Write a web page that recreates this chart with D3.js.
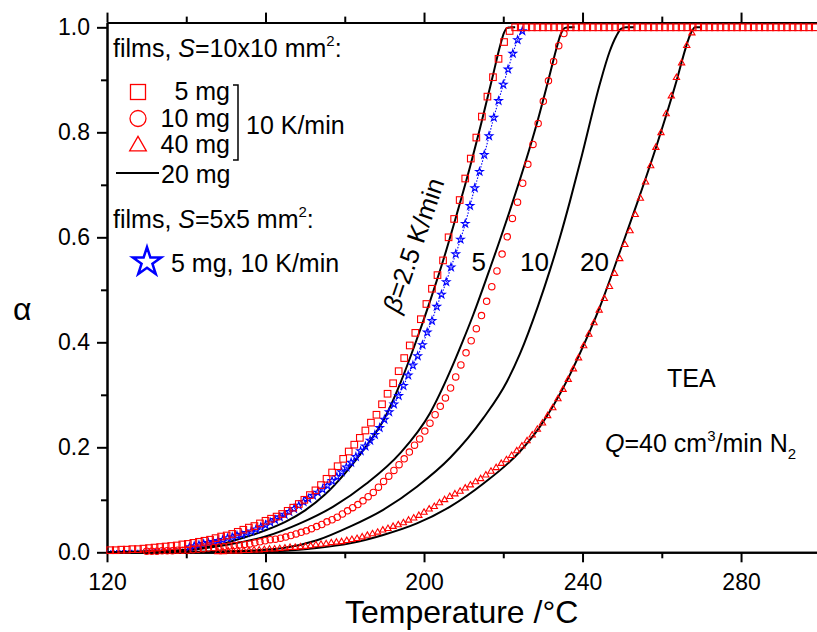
<!DOCTYPE html>
<html>
<head>
<meta charset="utf-8">
<script src="https://cdn.jsdelivr.net/npm/d3@7"></script>
<style>
  body { margin: 0; background: #fff; }
  text { font-family: "Liberation Sans", Arial, sans-serif; fill: #000; }
</style>
</head>
<body>
<svg id="chart" width="817" height="632"></svg>
<script>
// axis ticks
const xTicks = [120, 160, 200, 240, 280];
const xMinor = [140, 180, 220, 260, 300];
const yTicks = [0, 0.2, 0.4, 0.6, 0.8, 1.0];
const yMinor = [0.1, 0.3, 0.5, 0.7, 0.9];

// solid lines (20 mg) at beta = 2.5, 5, 10, 20 K/min  [T, alpha]
const line25 = [[120,0],[125,0.001],[130,0.002],[135,0.003],[140,0.005],[145,0.010],[150,0.018],[155,0.029],
  [160,0.042],[165,0.058],[170,0.080],[175,0.110],[180,0.150],[185,0.198],[190,0.255],[194,0.322],[198,0.402],
  [201.5,0.478],[205,0.560],[208.3,0.645],[211.6,0.734],[214.6,0.822],[217.5,0.912],[219.2,0.965],[220.2,0.990],
  [221,0.999],[222,1.0],[223,1.0]];
const line5 = [[120,0],[130,0.001],[140,0.004],[150,0.014],[160,0.030],[168.7,0.055],[177.1,0.087],[185.5,0.131],
  [194,0.189],[201.5,0.265],[206.6,0.345],[209.5,0.397],[212.4,0.452],[216.7,0.542],[222.4,0.668],[225.5,0.741],
  [228.4,0.815],[231.8,0.912],[233.5,0.962],[234.5,0.987],[235.6,0.999],[236.5,1.0],[238,1.0]];
const line10 = [[120,0],[140,0.001],[155,0.003],[164.5,0.008],[173,0.023],[181.3,0.049],[189.7,0.081],[198.2,0.125],
  [206.6,0.180],[215,0.256],[220.9,0.325],[224.2,0.378],[228.8,0.470],[231.8,0.538],[234.3,0.600],[236.8,0.668],
  [239.8,0.755],[244.4,0.893],[246.8,0.953],[248.5,0.983],[249.7,0.997],[251,1.0],[253,1.0]];
const line20 = [[120,0],[150,0.001],[165,0.003],[172.9,0.008],[181.3,0.017],[189.7,0.033],[198.2,0.055],[206.6,0.087],
  [215,0.131],[224.2,0.192],[229.3,0.240],[236,0.326],[239.4,0.380],[244.4,0.468],[249.5,0.574],[254,0.670],
  [258.7,0.775],[263.8,0.900],[266,0.960],[267.4,0.990],[268.4,1.0],[270,1.0]];

// 10x10 mm2 films, 10 K/min: 5 mg (squares)
const mg5 = [[120.8,.004],[122.2,.004],[123.6,.005],[125.0,.005],[126.4,.006],[127.8,.006],[129.2,.007],[130.6,.008],
  [132.0,.009],[133.4,.010],[134.8,.011],[136.2,.012],[137.6,.013],[139.0,.015],[140.4,.016],[141.8,.018],[143.2,.020],
  [144.6,.022],[146.0,.024],[147.4,.027],[148.8,.030],[150.2,.032],[151.6,.035],[153.0,.039],[154.4,.043],[155.8,.047],
  [157.2,.050],[158.6,.055],[160.0,.060],[161.4,.064],[162.8,.068],[164.2,.073],[165.6,.079],[167.0,.085],[168.4,.092],
  [169.8,.100],[171.2,.109],[172.6,.118],[174.0,.128],[175.4,.140],[176.8,.152],[178.2,.164],[179.6,.178],[181.0,.192],
  [182.4,.205],[183.8,.218],[185.2,.232],[186.6,.247],[188.0,.262],[189.4,.282],[190.8,.302],[192.2,.322],[193.6,.345],
  [195.0,.370],[196.4,.394],[197.8,.418],[199.2,.444],[200.6,.473],[202.0,.502],[203.4,.528],[204.8,.556],[206.2,.600],
  [207.6,.635],[209.0,.671],[210.4,.712],[211.8,.750],[213.2,.790],[214.6,.830],[216.0,.868],[217.4,.905],[218.8,.940],
  [220.2,.972],[221.6,.993],[223.0,1],[224.4,1],[225.8,1],[227.2,1],[228.6,1],[230.0,1],[231.4,1],[232.8,1],[234.2,1],
  [235.6,1],[237.0,1],[238.4,1],[239.8,1],[241.2,1],[242.6,1],[244.0,1],[245.4,1],[246.8,1],[248.2,1],[249.6,1],
  [251.0,1],[252.4,1],[253.8,1],[255.2,1],[256.6,1],[258.0,1],[259.4,1],[260.8,1],[262.2,1],[263.6,1],[265.0,1],
  [266.4,1],[267.8,1],[269.2,1],[270.6,1],[272.0,1],[273.4,1],[274.8,1],[276.2,1],[277.6,1],[279.0,1],[280.4,1],
  [281.8,1],[283.2,1],[284.6,1],[286.0,1],[287.4,1],[288.8,1],[290.2,1],[291.6,1],[293.0,1],[294.4,1],[295.8,1],
  [297.2,1],[298.6,1]];

// 10 mg (circles)
const mg10 = [[130.0,.002],[131.3,.002],[132.6,.002],[133.9,.003],[135.2,.003],[136.5,.003],[137.8,.004],[139.1,.004],
  [140.4,.004],[141.7,.005],[143.0,.006],[144.3,.007],[145.6,.008],[146.9,.009],[148.2,.010],[149.5,.011],[150.8,.012],
  [152.1,.013],[153.4,.014],[154.7,.015],[156.0,.016],[157.3,.018],[158.6,.020],[159.9,.022],[161.2,.024],[162.5,.025],
  [163.8,.027],[165.1,.029],[166.4,.032],[167.7,.035],[169.0,.038],[170.3,.041],[171.6,.045],[172.9,.049],[174.2,.053],
  [175.5,.058],[176.8,.062],[178.1,.067],[179.4,.073],[180.7,.079],[182.0,.085],[183.3,.091],[184.6,.098],[185.9,.106],
  [187.2,.114],[188.5,.124],[189.8,.135],[191.1,.145],[192.4,.156],[193.7,.167],[195.0,.178],[196.3,.191],[197.6,.204],
  [198.9,.216],[200.2,.231],[201.5,.246],[202.8,.262],[204.1,.278],[205.4,.294],[206.7,.313],[208.0,.334],[209.3,.357],
  [210.6,.380],[211.9,.403],[213.2,.426],[214.5,.451],[215.8,.478],[217.1,.506],[218.4,.536],[219.7,.568],[221.0,.601],
  [222.3,.636],[223.6,.667],[224.9,.703],[226.2,.739],[227.5,.777],[228.8,.817],[230.1,.859],[231.4,.898],[232.7,.935],
  [234.0,.965],[235.3,.988]];

// 40 mg (triangles)
const mg40 = [[148.0,.001],[149.3,.001],[150.6,.002],[151.9,.002],[153.2,.002],[154.5,.003],[155.8,.003],[157.1,.004],
  [158.4,.004],[159.7,.005],[161.0,.006],[162.3,.006],[163.6,.007],[164.9,.008],[166.2,.009],[167.5,.009],[168.8,.010],
  [170.1,.011],[171.4,.012],[172.7,.014],[174.0,.015],[175.3,.016],[176.6,.018],[177.9,.019],[179.2,.020],[180.5,.022],
  [181.8,.024],[183.1,.026],[184.4,.029],[185.7,.032],[187.0,.035],[188.3,.038],[189.6,.042],[190.9,.045],[192.2,.049],
  [193.5,.052],[194.8,.056],[196.1,.061],[197.4,.065],[198.7,.070],[200.0,.076],[201.3,.082],[202.6,.087],[203.9,.094],
  [205.2,.100],[206.5,.106],[207.8,.111],[209.1,.116],[210.4,.122],[211.7,.128],[213.0,.134],[214.3,.140],[215.6,.147],
  [216.9,.154],[218.2,.161],[219.5,.169],[220.8,.176],[222.1,.184],[223.4,.193],[224.7,.202],[226.0,.212],[227.3,.223],
  [228.6,.234],[229.9,.246],[231.2,.260],[232.5,.275],[233.8,.292],[235.1,.310],[236.4,.329],[237.7,.349],[239.0,.370],
  [240.3,.393],[241.6,.415],[242.9,.437],[244.2,.461],[245.5,.483],[246.8,.506],[248.1,.531],[249.4,.559],[250.7,.586],
  [252.0,.612],[253.3,.643],[254.6,.674],[255.9,.705],[257.2,.736],[258.5,.771],[259.8,.799],[261.1,.835],[262.4,.869],
  [263.7,.904],[265.0,.932],[266.3,.965],[267.6,.989]];

// 5x5 mm2 films, 5 mg, 10 K/min (stars)
const small5 = [[140.8,.010],[142.0,.012],[143.2,.014],[144.4,.016],[145.6,.018],[146.8,.020],[148.0,.022],[149.2,.024],
  [150.4,.027],[151.6,.029],[152.8,.032],[154.0,.034],[155.2,.037],[156.4,.040],[157.6,.044],[158.8,.048],[160.0,.052],
  [161.2,.057],[162.4,.062],[163.6,.067],[164.8,.072],[166.0,.077],[167.2,.083],[168.4,.089],[169.6,.096],[170.8,.102],
  [172.0,.108],[173.2,.114],[174.4,.120],[175.6,.127],[176.8,.136],[178.0,.144],[179.2,.153],[180.4,.162],[181.6,.171],
  [182.8,.182],[184.0,.193],[185.2,.202],[186.4,.213],[187.6,.224],[188.8,.237],[190.0,.253],[191.2,.267],[192.4,.282],
  [193.6,.298],[194.8,.317],[196.0,.337],[197.2,.356],[198.4,.374],[199.6,.395],[200.8,.419],[202.0,.441],[203.2,.468],
  [204.4,.491],[205.6,.515],[206.8,.543],[208.0,.568],[209.2,.596],[210.4,.626],[211.6,.660],[212.8,.694],[214.0,.725],
  [215.2,.757],[216.4,.793],[217.6,.828],[218.8,.860],[220.0,.891],[221.2,.920],[222.4,.950],[223.6,.976],[224.8,.993]];
const small5Head = [[120,.003],[128,.004],[134,.006],[138,.008]];
const small5Tail = [[226.5,.994],[300,.994]];

const svg = d3.select("#chart");
const x = d3.scaleLinear().domain([120, 300]).range([107, 820.3]);
const y = d3.scaleLinear().domain([0, 1.009]).range([552.3, 22.6]);

// axes
function styleAxis(g) {
  g.selectAll("path.domain").attr("stroke-width", 2);
  g.selectAll(".tick line").attr("stroke-width", 2);
  g.selectAll("text").attr("font-size", 23).attr("font-family", '"Liberation Sans", Arial, sans-serif');
}
svg.append("g").attr("transform", "translate(0,552.3)")
  .call(d3.axisBottom(x).tickValues(xTicks).tickSize(10).tickSizeOuter(0).tickPadding(11).tickFormat(d3.format("d")))
  .call(styleAxis);
svg.append("g").attr("transform", "translate(0,552.3)")
  .call(d3.axisBottom(x).tickValues(xMinor).tickSize(6).tickSizeOuter(0).tickFormat(""))
  .call(styleAxis);
svg.append("g").attr("transform", "translate(0,22.6)")
  .call(d3.axisTop(x).tickValues(xTicks).tickSize(10).tickSizeOuter(0).tickFormat(""))
  .call(styleAxis);
svg.append("g").attr("transform", "translate(0,22.6)")
  .call(d3.axisTop(x).tickValues(xMinor).tickSize(6).tickSizeOuter(0).tickFormat(""))
  .call(styleAxis);
svg.append("g").attr("transform", "translate(107,0)")
  .call(d3.axisLeft(y).tickValues(yTicks).tickSize(10).tickSizeOuter(0).tickPadding(7).tickFormat(d3.format(".1f")))
  .call(styleAxis);
svg.append("g").attr("transform", "translate(107,0)")
  .call(d3.axisLeft(y).tickValues(yMinor).tickSize(6).tickSizeOuter(0).tickFormat(""))
  .call(styleAxis);
svg.append("g").attr("transform", "translate(820.3,0)")
  .call(d3.axisRight(y).tickValues(yTicks).tickSize(10).tickSizeOuter(0).tickFormat(""))
  .call(styleAxis);

// curves
const line = d3.line().x(d => x(d[0])).y(d => y(d[1])).curve(d3.curveMonotoneX);
[line25, line5, line10, line20].forEach(s => {
  svg.append("path").datum(s).attr("d", line)
    .attr("fill", "none").attr("stroke", "#000").attr("stroke-width", 2);
});

svg.append("path").datum(small5Head.concat(small5, small5Tail)).attr("d", line)
  .attr("fill", "none").attr("stroke", "#0000ff").attr("stroke-width", 1.1).attr("stroke-dasharray", "1.5,1.5");

const star = d3.symbol(d3.symbolStar, 18);
svg.selectAll(".st").data(small5).join("path")
  .attr("transform", d => `translate(${x(d[0])},${y(d[1])})`)
  .attr("d", star).attr("fill", "none").attr("stroke", "#0000ff").attr("stroke-width", 1.1);

const tri = d3.symbol(d3.symbolTriangle, 17);
svg.selectAll(".tr").data(mg40).join("path")
  .attr("transform", d => `translate(${x(d[0])},${y(d[1])})`)
  .attr("d", tri).attr("fill", "none").attr("stroke", "#ff0000").attr("stroke-width", 1.1);

svg.selectAll(".ci").data(mg10).join("circle")
  .attr("cx", d => x(d[0])).attr("cy", d => y(d[1])).attr("r", 3.2)
  .attr("fill", "none").attr("stroke", "#ff0000").attr("stroke-width", 1.1);

svg.selectAll(".sq").data(mg5).join("rect")
  .attr("x", d => x(d[0]) - 3.3).attr("y", d => y(d[1]) - 3.3)
  .attr("width", 6.6).attr("height", 6.6)
  .attr("fill", "none").attr("stroke", "#ff0000").attr("stroke-width", 1.1);

// axis titles
svg.append("text").attr("x", 345).attr("y", 623).attr("font-size", 32).text("Temperature /°C");
svg.append("text").attr("x", 13).attr("y", 320).attr("font-size", 32)
  .attr("font-family", '"Liberation Serif", serif').text("α");

// legend
function rich(xp, yp, size, parts) {
  const t = svg.append("text").attr("x", xp).attr("y", yp).attr("font-size", size);
  parts.forEach(p => {
    const s = t.append("tspan").text(p.t);
    if (p.i) s.attr("font-style", "italic");
    if (p.dy) s.attr("dy", p.dy);
    if (p.fs) s.attr("font-size", p.fs);
  });
  return t;
}
rich(113, 57, 25, [{t: "films, "}, {t: "S", i: 1}, {t: "=10x10 mm"}, {t: "2", dy: -11, fs: 15}, {t: ":", dy: 11}]);
rich(113, 228, 25, [{t: "films, "}, {t: "S", i: 1}, {t: "=5x5 mm"}, {t: "2", dy: -11, fs: 15}, {t: ":", dy: 11}]);

const lg = svg.append("g");
lg.append("rect").attr("x", 130.5).attr("y", 84.5).attr("width", 15).attr("height", 15)
  .attr("fill", "none").attr("stroke", "#ff0000").attr("stroke-width", 1.3);
lg.append("circle").attr("cx", 138).attr("cy", 118.5).attr("r", 8)
  .attr("fill", "none").attr("stroke", "#ff0000").attr("stroke-width", 1.3);
lg.append("path").attr("transform", "translate(138,146)").attr("d", d3.symbol(d3.symbolTriangle, 120))
  .attr("fill", "none").attr("stroke", "#ff0000").attr("stroke-width", 1.3);
lg.append("line").attr("x1", 116).attr("x2", 159).attr("y1", 173).attr("y2", 173)
  .attr("stroke", "#000").attr("stroke-width", 2);
lg.append("path").attr("transform", "translate(147,262)").attr("d", d3.symbol(d3.symbolStar, 250))
  .attr("fill", "none").attr("stroke", "#0000ff").attr("stroke-width", 2.5);
lg.append("path").attr("d", "M233,85H238V160H233")
  .attr("fill", "none").attr("stroke", "#000").attr("stroke-width", 1.5);

const legendRows = [["5 mg", 100], ["10 mg", 126.5], ["40 mg", 152.5]];
legendRows.forEach(r => {
  svg.append("text").attr("x", 230).attr("y", r[1]).attr("font-size", 25)
    .attr("text-anchor", "end").text(r[0]);
});
svg.append("text").attr("x", 246).attr("y", 133.5).attr("font-size", 25).text("10 K/min");
svg.append("text").attr("x", 161).attr("y", 182.5).attr("font-size", 25).text("20 mg");
svg.append("text").attr("x", 171).attr("y", 271.5).attr("font-size", 25).text("5 mg, 10 K/min");

// curve labels
rich(0, 0, 26, [{t: "β", i: 1}, {t: "=2.5 K/min"}])
  .attr("text-anchor", "middle").attr("transform", "translate(422,248) rotate(-71)");
const rateLabels = [["5", 471.5], ["10", 520], ["20", 580]];
rateLabels.forEach(r => {
  svg.append("text").attr("x", r[1]).attr("y", 271).attr("font-size", 26).text(r[0]);
});
svg.append("text").attr("x", 667).attr("y", 387).attr("font-size", 25).text("TEA");
rich(605, 452, 25, [{t: "Q", i: 1}, {t: "=40 cm"}, {t: "3", dy: -11, fs: 15}, {t: "/min N", dy: 11},
  {t: "2", dy: 7, fs: 15}]);
</script>
</body>
</html>
